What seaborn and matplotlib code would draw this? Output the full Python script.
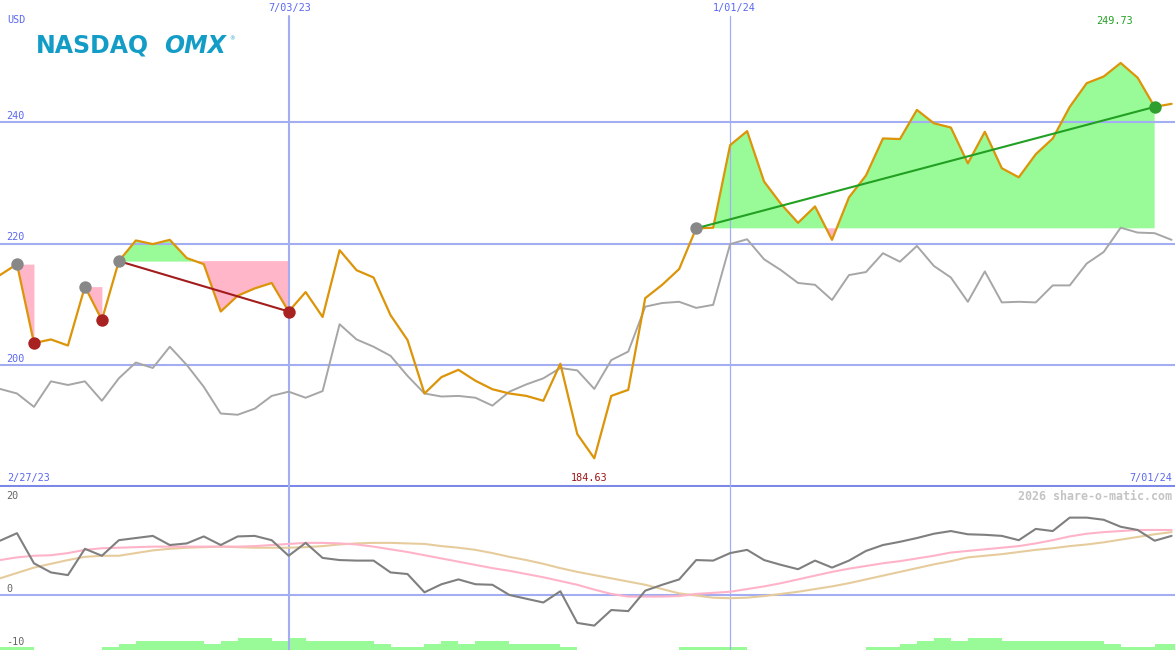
import pandas as pd
import numpy as np
import seaborn as sns
import matplotlib
matplotlib.use("Agg")
import matplotlib.pyplot as plt

# weekly closes, comparison index and oscillator
dates = pd.date_range("2023-03-06", periods=70, freq="7D")

price = [214.8, 216.6, 203.6, 204.2, 203.2, 212.9, 207.4, 217.1, 220.5, 219.9,
         220.6, 217.6, 216.6, 208.8, 211.4, 212.6, 213.5, 208.8, 212.0, 207.9,
         218.9, 215.6, 214.4, 208.2, 204.1, 195.3, 198.0, 199.2, 197.4, 196.0,
         195.3, 194.9, 194.1, 200.2, 188.6, 184.63, 194.9, 195.9, 211.0, 213.2,
         215.8, 222.5, 222.6, 236.2, 238.5, 230.2, 226.5, 223.4, 226.1, 220.6,
         227.6, 231.2, 237.3, 237.2, 242.0, 239.8, 239.1, 233.2, 238.4, 232.4,
         230.9, 234.7, 237.3, 242.5, 246.4, 247.5, 249.73, 247.3, 242.5, 243.0]

compare = [196.05, 195.3, 193.1, 197.3, 196.7, 197.3, 194.1, 197.8, 200.4, 199.5,
           203.0, 200.0, 196.4, 192.0, 191.8, 192.8, 194.9, 195.6, 194.6, 195.7,
           206.7, 204.2, 203.0, 201.5, 198.2, 195.3, 194.8, 194.9, 194.6, 193.3,
           195.6, 196.8, 197.8, 199.5, 199.1, 196.05, 200.8, 202.2, 209.6, 210.2,
           210.4, 209.4, 209.9, 219.9, 220.7, 217.4, 215.6, 213.5, 213.2, 210.7,
           214.8, 215.3, 218.4, 217.0, 219.6, 216.3, 214.4, 210.4, 215.4, 210.3,
           210.4, 210.3, 213.1, 213.1, 216.7, 218.6, 222.6, 221.8, 221.7, 220.6]

osc = [10.1, 11.5, 5.9, 4.2, 3.7, 8.6, 7.3, 10.2, 10.6, 11.0,
       9.3, 9.6, 10.9, 9.3, 10.9, 11.0, 10.2, 7.3, 9.7, 6.9,
       6.5, 6.4, 6.4, 4.2, 3.9, 0.5, 2.0, 2.9, 2.0, 1.9,
       0.0, -0.7, -1.4, 0.7, -5.2, -5.7, -2.8, -3.0, 0.8, 1.9,
       2.9, 6.5, 6.4, 7.8, 8.4, 6.5, 5.6, 4.8, 6.4, 5.1,
       6.4, 8.2, 9.3, 9.9, 10.6, 11.4, 11.9, 11.3, 11.2, 11.0,
       10.2, 12.3, 11.9, 14.4, 14.4, 14.0, 12.7, 12.1, 10.1, 11.0]

osc_fast = [6.5, 7.0, 7.3, 7.4, 7.8, 8.4, 8.7, 8.8, 8.9, 9.0,
            9.0, 9.0, 9.0, 9.0, 9.0, 9.1, 9.3, 9.5, 9.7, 9.7,
            9.6, 9.4, 9.0, 8.5, 8.0, 7.4, 6.8, 6.2, 5.6, 5.0,
            4.5, 3.9, 3.3, 2.6, 1.9, 1.0, 0.2, -0.3, -0.3, -0.3,
            -0.2, 0.2, 0.4, 0.6, 1.1, 1.6, 2.2, 2.9, 3.6, 4.3,
            4.9, 5.4, 5.9, 6.3, 6.8, 7.3, 7.9, 8.2, 8.5, 8.8,
            9.1, 9.6, 10.2, 10.9, 11.4, 11.7, 11.9, 12.1, 12.1, 12.1]

osc_slow = [3.1, 4.1, 5.1, 5.8, 6.5, 7.1, 7.3, 7.3, 7.8, 8.3,
            8.6, 8.8, 8.9, 9.0, 8.9, 8.8, 8.8, 8.8, 8.9, 9.1,
            9.4, 9.6, 9.7, 9.7, 9.6, 9.5, 9.1, 8.8, 8.4, 7.8,
            7.1, 6.5, 5.8, 5.0, 4.3, 3.7, 3.1, 2.5, 1.9, 1.1,
            0.3, -0.1, -0.5, -0.6, -0.5, -0.2, 0.2, 0.6, 1.1, 1.6,
            2.2, 2.9, 3.6, 4.3, 5.0, 5.7, 6.3, 7.0, 7.3, 7.6,
            8.0, 8.4, 8.7, 9.1, 9.4, 9.8, 10.3, 10.8, 11.3, 11.7]

volume = [1, 1, 0, 0, 0, 0, 1, 2, 3, 3,
          3, 3, 2, 3, 4, 4, 3, 4, 3, 3,
          3, 3, 2, 1, 1, 2, 3, 2, 3, 3,
          2, 2, 2, 1, 0, 0, 0, 0, 0, 0,
          1, 1, 1, 1, 0, 0, 0, 0, 0, 0,
          0, 1, 1, 2, 3, 4, 3, 4, 4, 3,
          3, 3, 3, 3, 3, 2, 1, 1, 2, 2]

# trend segments (start index, end index) and marker points
fill_segments = [(1, 2), (5, 6), (7, 17), (41, 68)]
trend_down = (7, 17)
trend_up = (41, 68)
start_points = [1, 5, 7, 41]
low_points = [2, 6, 17]
high_points = [68]

price_levels = [200, 220, 240]
osc_levels = [0]
date_marks = ["2023-07-03", "2024-01-01"]

df = pd.DataFrame({"date": dates, "price": price, "compare": compare,
                   "osc": osc, "fast": osc_fast, "slow": osc_slow, "volume": volume})

sns.set_style("white")
plt.rcParams["font.family"] = ["DejaVu Sans"]

W, H = 1175, 650
fig = plt.figure(figsize=(W / 100, H / 100), dpi=100)
fig.patch.set_facecolor("white")

split = 487
ax = fig.add_axes([0, (H - split) / H, 1, split / H])
axb = fig.add_axes([0, 0, 1, (H - split) / H])
axv = axb.twinx()

grid_c = "#a3adf2"
x0 = dates[0]
x1 = dates[0] + pd.Timedelta(days=7 * 69.2)

# ---- top panel ----
for lv in price_levels:
    ax.axhline(lv, color=grid_c, lw=1.5, zorder=2)
ax.axhline(180, color="#7b88e8", lw=2.2, zorder=2)
ax.axvline(pd.Timestamp(date_marks[0]), ymax=1 - 16 / split, color=grid_c, lw=1.5, zorder=2)
ax.axvline(pd.Timestamp(date_marks[1]), ymax=1 - 16 / split, color=grid_c, lw=0.9, zorder=2)

for s, e in fill_segments:
    seg = df.iloc[s:e + 1]
    lvl = price[s]
    ax.fill_between(seg["date"], seg["price"], lvl, where=seg["price"] >= lvl,
                    interpolate=True, color="#98fb98", lw=0, zorder=1)
    ax.fill_between(seg["date"], seg["price"], lvl, where=seg["price"] <= lvl,
                    interpolate=True, color="#ffb6c8", lw=0, zorder=1)

sns.lineplot(data=df, x="date", y="compare", ax=ax, color="#a6a6a6", lw=1.4, zorder=3)
sns.lineplot(data=df, x="date", y="price", ax=ax, color="#dc9408", lw=1.6, zorder=4)

for (s, e), c in [(trend_down, "#a31c1c"), (trend_up, "#22a022")]:
    ax.plot([dates[s], dates[e]], [price[s], price[e]], color=c, lw=1.5, zorder=5)

for idx, c in [(start_points, "#888888"), (low_points, "#a82222"), (high_points, "#2e9e2e")]:
    ax.scatter(dates[idx], np.array(price)[idx], s=80, color=c, zorder=6, lw=0)

ax.set_xlim(x0, x1)
ax.set_ylim(179.9, 260.1)
ax.set_axis_off()

# ---- bottom panel ----
axv.bar(df["date"], df["volume"], width=7, align="edge", color="#98fb98", lw=0, zorder=1)
axv.set_ylim(0, 53)
axv.set_axis_off()

for lv in osc_levels:
    axb.axhline(lv, color=grid_c, lw=1.5, zorder=2)
axb.axvline(pd.Timestamp(date_marks[0]), color=grid_c, lw=1.5, zorder=2)
axb.axvline(pd.Timestamp(date_marks[1]), color=grid_c, lw=0.9, zorder=2)

sns.lineplot(data=df, x="date", y="slow", ax=axb, color="#e6cc9c", lw=1.5, zorder=3)
sns.lineplot(data=df, x="date", y="fast", ax=axb, color="#ffb3c8", lw=1.5, zorder=3)
sns.lineplot(data=df, x="date", y="osc", ax=axb, color="#7f7f7f", lw=1.5, zorder=4)

axb.set_xlim(x0, x1)
axb.set_ylim(-10.24, 20.1)
axb.set_axis_off()
axb.set_zorder(axv.get_zorder() + 1)
axb.patch.set_visible(False)

# ---- labels ----
def label(x, y, s, color, ha="left", size=7.3, **kw):
    fig.text(x / W, 1 - y / H, s, color=color, ha=ha, va="center",
             fontsize=size, family="DejaVu Sans Mono", **kw)

blue = "#5a68f0"
label(7, 20, "USD", blue)
label(290, 8, "7/03/23", blue, ha="center")
label(734, 8, "1/01/24", blue, ha="center")
for lv in price_levels:
    yy = 365 - (lv - 200) * 6.075
    label(6, yy - 6, str(lv), blue)
label(1115, 21, "249.73", "#22a022", ha="center")
label(7, 478, "2/27/23", blue)
label(589, 478, "184.63", "#a01414", ha="center")
label(1172, 478, "7/01/24", blue, ha="right")
label(6, 496, "20", "#666666")
label(6, 589, "0", "#666666")
label(6, 642, "-10", "#666666")
label(1172, 496, "2026 share-o-matic.com", "#c4c4c4", ha="right", size=8.4, fontweight="bold")

fig.text(36 / W, 1 - 46 / H, "NASDAQ", color="#139dc6", fontsize=17,
         fontweight="heavy", family="DejaVu Sans", va="center", ha="left")
fig.text(164 / W, 1 - 46 / H, "OMX", color="#139dc6", fontsize=17,
         fontweight="heavy", style="italic", family="DejaVu Sans", va="center", ha="left")
fig.text(232 / W, 1 - 39 / H, "\u00ae", color="#139dc6", fontsize=4,
         family="DejaVu Sans", va="center", ha="center")

fig.savefig("out.png", dpi=100, facecolor="white")
